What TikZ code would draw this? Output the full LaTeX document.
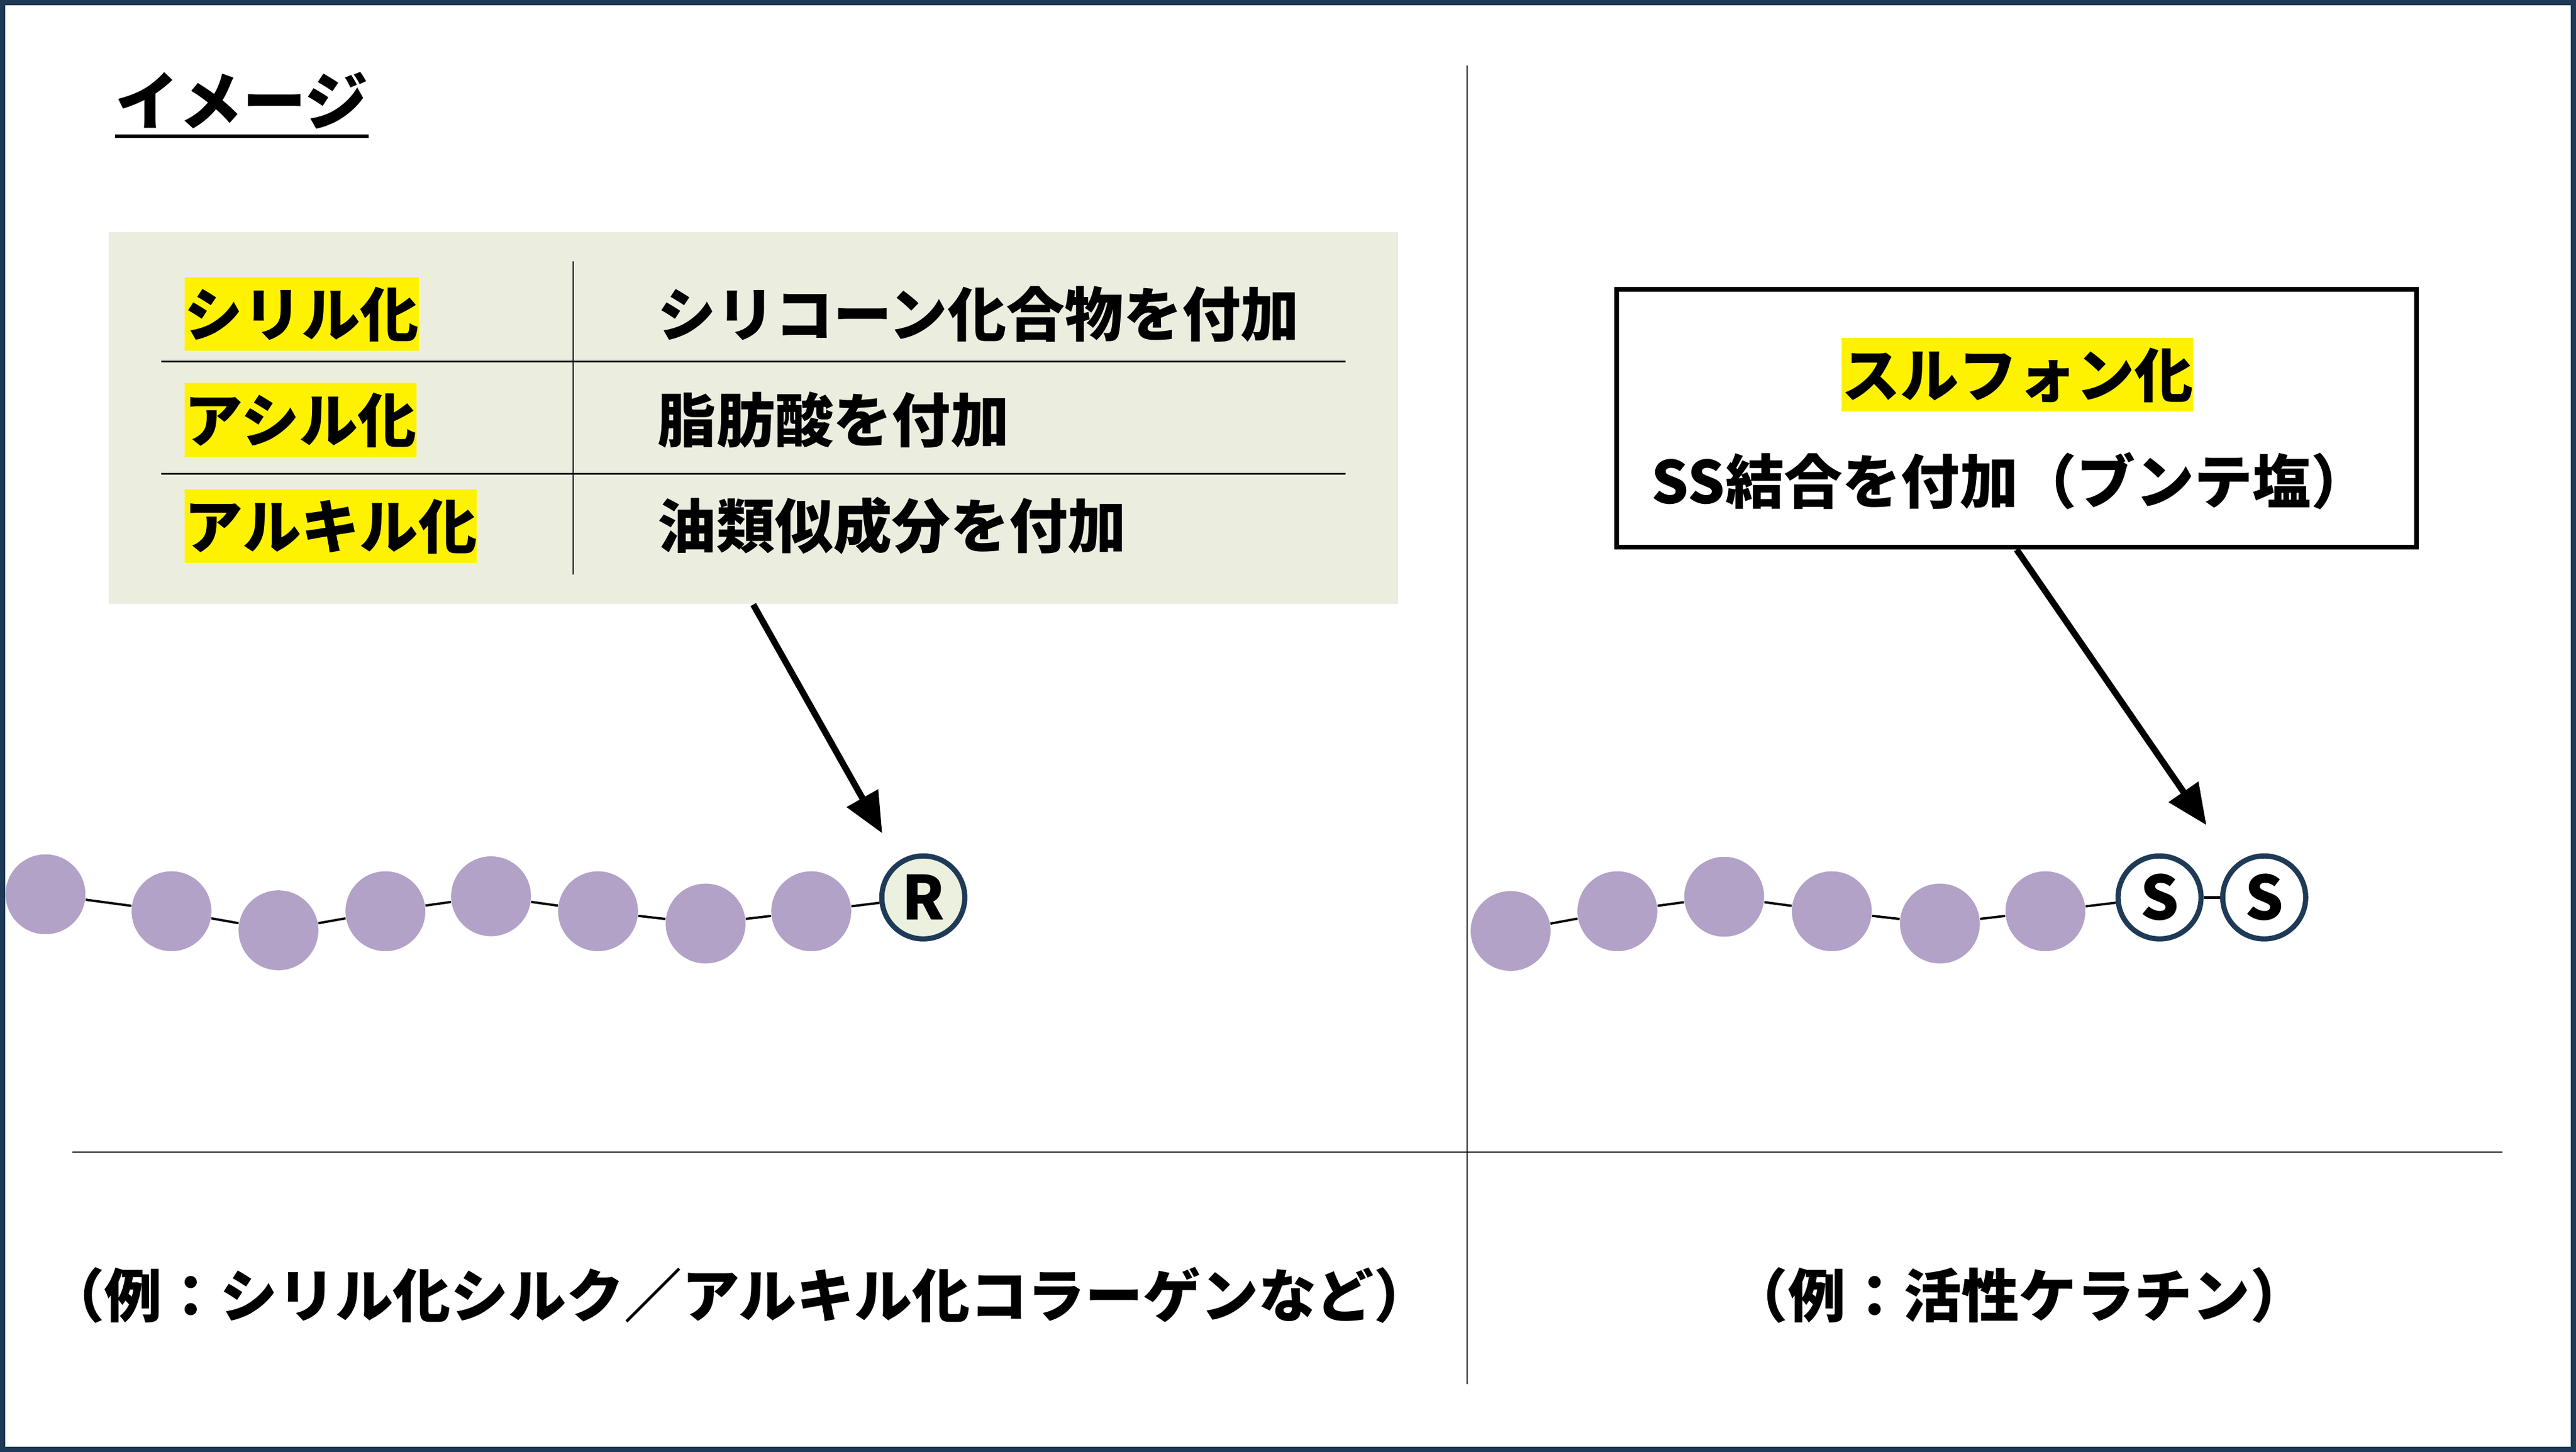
\documentclass[tikz,border=0pt]{standalone}
\usepackage{fontspec}
\setmainfont{Noto Sans CJK JP}
\usetikzlibrary{arrows.meta}
\definecolor{navy}{HTML}{1F3A56}
\definecolor{lilac}{HTML}{B3A2C7}
\definecolor{sage}{HTML}{EBF1DE}
\definecolor{panelc}{HTML}{EBEEDF}
\def\bd{0.972cm}
\def\cp{1.01cm}
\def\jfont{\fontsize{20.3}{24}\selectfont\bfseries}

\begin{document}
\begin{tikzpicture}[x=0.02cm,y=-0.02cm,
  bead/.style={circle,fill=lilac,minimum size=\bd,inner sep=0pt},
  endcap/.style={circle,draw=navy,line width=1.8pt,minimum size=\cp,inner sep=0pt,font=\fontsize{21}{21}\selectfont\bfseries},
  link/.style={line width=0.8pt},
  jtext/.style={font=\jfont,inner sep=0pt},
  hilite/.style={jtext,fill=yellow,inner xsep=0pt,inner ysep=2.65pt,text height=17.9pt,text depth=2.4pt},
  pointer/.style={line width=2.2pt,-{Triangle[length=14pt,width=12pt]}},
  rule/.style={line width=0.6pt}]
\useasboundingbox (0,0) rectangle (1568,883.4);
\fill[white] (0,0) rectangle (1568,883.4);
\draw[navy,line width=1.8pt] (1.6,1.6) rectangle (1566.4,881.8);

\draw[line width=0.5pt] (893,40) -- (893,842) (44,701) -- (1523,701);

\node[jtext,font=\fontsize{22}{26}\selectfont\bfseries,anchor=west] (title) at (70,61) {イメージ};
\draw[line width=1.2pt] ([yshift=-2.5pt]title.south west) -- ([yshift=-2.5pt]title.south east);

\node[fill=panelc,minimum width=15.7cm,minimum height=4.53cm,inner sep=0pt] (tbl) at (458.5,254.25) {};
\draw[rule] (98,220) -- (819,220) (98,288.3) -- (819,288.3);
\draw[line width=0.4pt] (349,159) -- (349,349.5);
\foreach \k/\y/\a/\b in {1/191/シリル化/シリコーン化合物を付加,2/255.5/アシル化/脂肪酸を付加,3/320/アルキル化/油類似成分を付加}{
  \node[hilite,anchor=west] (m\k) at (112,\y) {\a};
  \node[jtext,anchor=west] (d\k) at (400,\y) {\b};
}

\node[draw,line width=1.6pt,minimum width=9.74cm,minimum height=3.14cm,inner sep=0pt] (sbox) at (1227.5,254.5) {};
\node[hilite] (sulf) at (1228,228) {スルフォン化};
\node[jtext,anchor=west] (ss) at (1005,292.5) {SS結合を付加（ブンテ塩）};

\foreach \n/\x/\y in {1/27.7/544.1,2/104.4/554.4,3/169.5/566,4/234.6/554.4,5/298.9/545.3,6/364/554.4,7/429.5/561.9,8/493.8/554.4}{
  \node[bead] (a\n) at (\x,\y) {};
}
\node[endcap,fill=sage] (a9) at (562,546) {R};
\foreach \i/\j in {1/2,2/3,3/4,4/5,5/6,6/7,7/8,8/9}{
  \draw[link] (a\i) -- (a\j);
}

\foreach \n/\x/\y in {1/919.5/566.4,2/984.5/554.4,3/1049.5/545.6,4/1115/554.4,5/1180.8/561.9,6/1245/554.4}{
  \node[bead] (b\n) at (\x,\y) {};
}
\node[endcap,fill=white] (b7) at (1314.5,546) {S};
\node[endcap,fill=white] (b8) at (1378.2,546) {S};
\foreach \i/\j in {1/2,2/3,3/4,4/5,5/6,6/7}{
  \draw[link] (b\i) -- (b\j);
}
\draw[line width=1pt] (b7) -- (b8);

\coordinate (tipL) at (537,507);
\coordinate (tipR) at (1343,502);
\draw[pointer] (tbl.south) -- (tipL);
\draw[pointer] (sbox.south) -- (tipR);

\node[jtext,font=\fontsize{20}{24}\selectfont\bfseries] (ex1) at (450,788) {（例：シリル化シルク／アルキル化コラーゲンなど）};
\node[jtext,font=\fontsize{20}{24}\selectfont\bfseries] (ex2) at (1229,788) {（例：活性ケラチン）};
\end{tikzpicture}
\end{document}
